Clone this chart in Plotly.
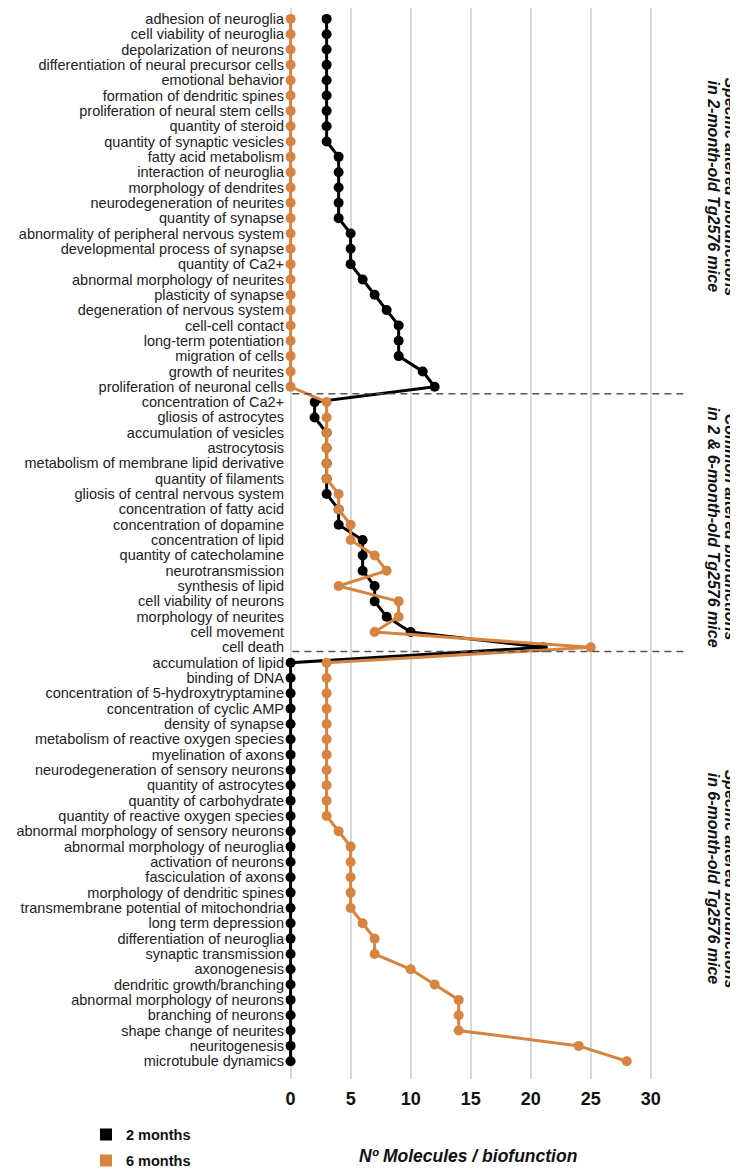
import plotly.graph_objects as go

categories = [
    "adhesion of neuroglia", "cell viability of neuroglia", "depolarization of neurons",
    "differentiation of neural precursor cells", "emotional behavior", "formation of dendritic spines",
    "proliferation of neural stem cells", "quantity of steroid", "quantity of synaptic vesicles",
    "fatty acid metabolism", "interaction of neuroglia", "morphology of dendrites",
    "neurodegeneration of neurites", "quantity of synapse", "abnormality of peripheral nervous system",
    "developmental process of synapse", "quantity of Ca2+", "abnormal morphology of neurites",
    "plasticity of synapse", "degeneration of nervous system", "cell-cell contact",
    "long-term potentiation", "migration of cells", "growth of neurites", "proliferation of neuronal cells",
    "concentration of Ca2+", "gliosis of astrocytes", "accumulation of vesicles", "astrocytosis",
    "metabolism of membrane lipid derivative", "quantity of filaments", "gliosis of central nervous system",
    "concentration of fatty acid", "concentration of dopamine", "concentration of lipid",
    "quantity of catecholamine", "neurotransmission", "synthesis of lipid", "cell viability of neurons",
    "morphology of neurites", "cell movement", "cell death",
    "accumulation of lipid", "binding of DNA", "concentration of 5-hydroxytryptamine",
    "concentration of cyclic AMP", "density of synapse", "metabolism of reactive oxygen species",
    "myelination of axons", "neurodegeneration of sensory neurons", "quantity of astrocytes",
    "quantity of carbohydrate", "quantity of reactive oxygen species", "abnormal morphology of sensory neurons",
    "abnormal morphology of neuroglia", "activation of neurons", "fasciculation of axons",
    "morphology of dendritic spines", "transmembrane potential of mitochondria", "long term depression",
    "differentiation of neuroglia", "synaptic transmission", "axonogenesis", "dendritic growth/branching",
    "abnormal morphology of neurons", "branching of neurons", "shape change of neurites",
    "neuritogenesis", "microtubule dynamics",
]

months_2 = [
    3, 3, 3, 3, 3, 3, 3, 3, 3,
    4, 4, 4, 4, 4,
    5, 5, 5, 6, 7, 8, 9, 9, 9, 11, 12,
    2, 2, 3, 3, 3, 3, 3, 4, 4, 6, 6, 6, 7, 7, 8, 10, 21,
    0, 0, 0, 0, 0, 0, 0, 0, 0, 0, 0, 0, 0, 0, 0, 0, 0, 0, 0, 0, 0, 0, 0, 0, 0, 0, 0,
]

months_6 = [
    0, 0, 0, 0, 0, 0, 0, 0, 0, 0, 0, 0, 0, 0, 0, 0, 0, 0, 0, 0, 0, 0, 0, 0, 0,
    3, 3, 3, 3, 3, 3, 4, 4, 5, 5, 7, 8, 4, 9, 9, 7, 25,
    3, 3, 3, 3, 3, 3, 3, 3, 3, 3, 3, 4, 5, 5, 5, 5, 5, 6, 7, 7, 10, 12, 14, 14, 14, 24, 28,
]

series_names = ["2 months", "6 months"]
x_ticks = [0, 5, 10, 15, 20, 25, 30]
section_titles = [
    ("Specific altered biofunctions", "in 2-month-old Tg2576 mice"),
    ("Common altered biofunctions", "in 2 & 6-month-old Tg2576 mice"),
    ("Specific altered biofunctions", "in 6-month-old Tg2576 mice"),
]
x_title = "Nº Molecules / biofunction"

BLACK = "#000000"
ORANGE = "#D6843F"
FONT = "Liberation Sans, Arial, sans-serif"

L, PW, PH = 279, 401, 1080

fig = go.Figure()
for vals, col in [(months_2, BLACK), (months_6, ORANGE)]:
    fig.add_trace(go.Scatter(
        x=vals, y=categories, mode="lines+markers",
        line=dict(color=col, width=3),
        marker=dict(color=col, size=10),
        showlegend=False, cliponaxis=False,
    ))

for i, (name, col) in enumerate(zip(series_names, [BLACK, ORANGE])):
    fig.add_trace(go.Scatter(
        x=[None], y=[None], mode="markers", name=name,
        marker=dict(color=col, size=12, symbol="square"),
        legendgroup=f"g{i}", showlegend=True,
    ))

# section separators (between category rows)
for yy in [24.45, 41.27]:
    fig.add_shape(type="line", xref="x", yref="y", x0=0.15, x1=33.1, y0=yy, y1=yy,
                  line=dict(color="#555555", width=1.5, dash="7px,5px"))

# section labels: two rotated lines each
for (l1, l2), ypx in zip(section_titles, [180, 523, 878]):
    for txt, xpx in [(l1, 722), (l2, 705)]:
        fig.add_annotation(
            text=f"<b><i>{txt}</i></b>", xref="paper", yref="paper",
            x=(xpx - L) / PW, y=1 - ypx / PH, showarrow=False,
            textangle=90, font=dict(family=FONT, size=16, color="#111111"),
            xanchor="center", yanchor="middle",
        )

fig.add_annotation(
    text=f"<b><i>{x_title}</i></b>", xref="paper", yref="paper",
    x=(460 - L) / PW, y=-(1158 - PH) / PH, showarrow=False,
    font=dict(family=FONT, size=17.5, color="#111111"),
    xanchor="center", yanchor="middle",
)

fig.update_layout(
    width=738, height=1169,
    margin=dict(l=L, r=738 - L - PW, t=0, b=1169 - PH),
    plot_bgcolor="white", paper_bgcolor="white",
    font=dict(family=FONT, color="#222222"),
    legend=dict(
        x=(78 - L) / PW, y=-(1120 - PH) / PH, xanchor="left", yanchor="top",
        font=dict(family=FONT, size=14.5, color="#111111", weight="bold"),
        traceorder="grouped", tracegroupgap=4, bgcolor="rgba(0,0,0,0)",
    ),
    xaxis=dict(
        range=[-0.3, 33.1], tickvals=x_ticks, showgrid=True, gridcolor="#d9d9d9",
        gridwidth=1.5, zeroline=False, showline=False, ticks="",
        tickfont=dict(family=FONT, size=18, color="#111111", weight="bold"),
        ticklabelstandoff=7,
    ),
    yaxis=dict(
        type="category", categoryorder="array", categoryarray=categories,
        tickmode="array", tickvals=categories, ticktext=categories,
        range=[69.16, -0.71], showgrid=False, zeroline=False, showline=False, ticks="",
        tickfont=dict(family=FONT, size=14.5, color="#222222"),
        ticklabelstandoff=2,
    ),
)

fig.write_html("out.html")
